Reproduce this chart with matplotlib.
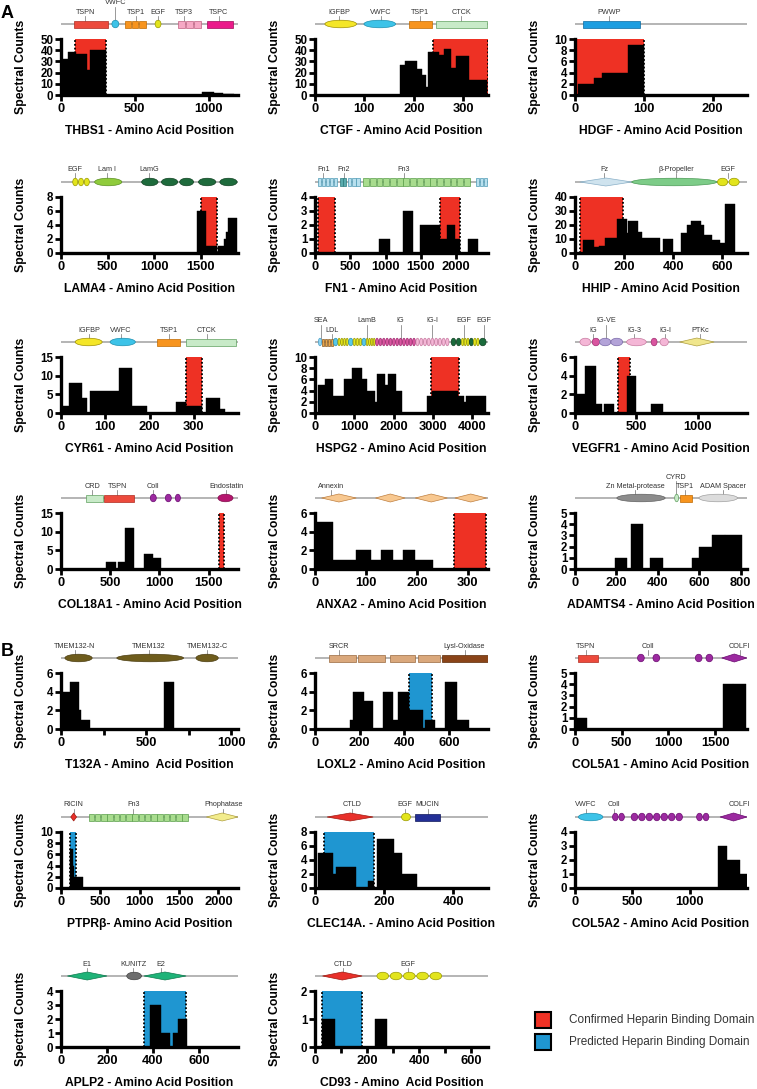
import matplotlib
matplotlib.use("Agg")
import matplotlib.pyplot as plt
from matplotlib.patches import Rectangle, Ellipse, Polygon

plt.rcParams['font.family'] = ['Liberation Sans', 'DejaVu Sans']

RED = '#ee3124'
BLUE = '#1f96d1'

# ---------------- data (amino acid positions / spectral counts) ----------------
thbs1_start = [0, 49, 99, 174, 197, 955, 1035, 1100]
thbs1_end = [49, 99, 174, 197, 306, 1035, 1100, 1170]
thbs1_count = [32, 38, 37, 22, 40, 3, 2, 1]
thbs1_hbd = [(95, 306)]
thbs1_dom = [("TSPN", 89, 319, 1), ("VWFC", 345, 392, 1), ("TSP1", 428, 576, 3),
             ("EGF", 638, 678, 1), ("TSP3", 790, 954, 3), ("TSPC", 987, 1168, 1)]
thbs1_lab = [("TSPN", 165), ("VWFC", 368), ("TSP1", 510), ("EGF", 655), ("TSP3", 832), ("TSPC", 1069)]

ctgf_start = [172, 182, 207, 217, 224, 229, 251, 261, 276, 286, 311]
ctgf_end = [182, 207, 217, 224, 229, 251, 261, 276, 286, 311, 348]
ctgf_count = [27, 30, 23, 18, 7, 38, 36, 41, 24, 35, 13]
ctgf_hbd = [(238, 350)]
ctgf_dom = [("IGFBP", 20, 84, 1), ("VWFC", 99, 163, 1), ("TSP1", 190, 237, 1), ("CTCK", 245, 348, 1)]
ctgf_lab = [("IGFBP", 49), ("VWFC", 133), ("TSP1", 212), ("CTCK", 296)]

hdgf_start = [5, 28, 39, 77]
hdgf_end = [28, 39, 77, 100]
hdgf_count = [2, 3, 4, 9]
hdgf_hbd = [(0, 100)]
hdgf_dom = [("PWWP", 11, 94, 1)]
hdgf_lab = [("PWWP", 49)]

lama4_start = [1460, 1556, 1689, 1752, 1768, 1795]
lama4_end = [1556, 1673, 1752, 1768, 1795, 1890]
lama4_count = [6, 1, 1, 2, 3, 5]
lama4_hbd = [(1503, 1673)]
lama4_dom = [("EGF", 122, 308, 3), ("LamI", 361, 653, 1), ("LamG", 866, 1041, 1), ("LamG", 1078, 1253, 1),
             ("LamG", 1274, 1423, 1), ("LamG", 1476, 1662, 1), ("LamG", 1705, 1890, 1)]
lama4_lab = [("EGF", 149), ("Lam I", 494), ("LamG", 945)]

fn1_start = [909, 1243, 1491, 1775, 1867, 1988, 2166]
fn1_end = [1065, 1385, 1775, 1867, 1988, 2059, 2308]
fn1_count = [1, 3, 2, 1, 2, 1, 1]
fn1_hbd = [(40, 285), (1775, 2060)]
fn1_dom = [("Fn1", 35, 320, 5), ("Fn2", 355, 440, 2), ("Fn1", 460, 640, 3), ("Fn3", 675, 2200, 16),
           ("Fn1", 2270, 2440, 3)]
fn1_lab = [("Fn1", 120), ("Fn2", 405), ("Fn3", 1257)]

hhip_start = [31, 77, 97, 124, 171, 211, 217, 257, 271, 357, 431, 457, 471, 511, 524, 557, 591, 611]
hhip_end = [77, 97, 124, 171, 211, 217, 257, 271, 344, 397, 457, 471, 511, 524, 557, 591, 611, 651]
hhip_count = [9, 4, 5, 11, 24, 14, 23, 15, 11, 10, 14, 20, 23, 20, 13, 9, 7, 35]
hhip_hbd = [(21, 197)]
hhip_dom = [("Fz", 20, 231, 1), ("Prop", 231, 577, 1), ("EGF", 577, 671, 2)]
hhip_lab = [("Fz", 120), ("β-Propeller", 411), ("EGF", 624)]

cyr61_start = [3, 18, 47, 65, 131, 161, 259, 282, 327, 359]
cyr61_end = [17, 47, 58, 131, 161, 195, 282, 318, 359, 370]
cyr61_count = [2, 8, 4, 6, 12, 2, 3, 2, 4, 1]
cyr61_hbd = [(282, 318)]
cyr61_dom = [("IGFBP", 32, 93, 1), ("VWFC", 111, 168, 1), ("TSP1", 218, 270, 1), ("CTCK", 282, 395, 1)]
cyr61_lab = [("IGFBP", 64), ("VWFC", 136), ("TSP1", 244), ("CTCK", 329)]

hspg2_start = [85, 256, 469, 725, 938, 1195, 1323, 1536, 1579, 1792, 1852, 2048, 2859, 2987, 3627, 3797, 3840]
hspg2_end = [256, 469, 725, 938, 1195, 1323, 1536, 1579, 1792, 1852, 2048, 2219, 2987, 3627, 3797, 3840, 4352]
hspg2_count = [5, 6, 3, 6, 8, 6, 4, 2, 7, 5, 7, 4, 3, 4, 3, 2, 3]
hspg2_hbd = [(2944, 3668)]
hspg2_dom = [("SEA", 85, 170, 1), ("LDL", 170, 469, 4), ("LamB", 469, 580, 1), ("LE", 580, 853, 4),
             ("LamB", 853, 964, 1), ("LE", 964, 1195, 3), ("LamB", 1195, 1298, 1), ("LE", 1298, 1536, 4),
             ("IGm", 1536, 2560, 12), ("IGp", 2560, 3413, 9), ("EGFd", 3456, 3720, 2), ("LE", 3720, 3925, 3),
             ("EGFd", 3925, 4028, 1), ("LE", 4028, 4181, 2), ("EGFd", 4181, 4352, 1)]
hspg2_lab = [("SEA", 145), ("LDL", 427), ("LamB", 1323), ("IG", 2176), ("IG-I", 2987), ("EGF", 3797), ("EGF", 4293)]

vegfr1_start = [0, 80, 168, 240, 420, 620]
vegfr1_end = [80, 168, 220, 320, 500, 720]
vegfr1_count = [2, 5, 1, 1, 4, 1]
vegfr1_hbd = [(348, 448)]
vegfr1_dom = [("IGp", 40, 128, 1), ("IGm", 140, 200, 1), ("IGl", 200, 292, 1), ("IGl", 292, 388, 1),
              ("IGp", 420, 580, 1), ("IGm", 620, 668, 1), ("IGp", 692, 760, 1), ("PTKc", 852, 1132, 1)]
vegfr1_lab = [("IG", 148), ("IG-VE", 252), ("IG-3", 480), ("IG-I", 732), ("PTKc", 1020)]

col18a1_start = [459, 576, 653, 847, 933]
col18a1_end = [561, 653, 745, 933, 1020]
col18a1_count = [2, 2, 11, 4, 3]
col18a1_hbd = [(1607, 1658)]
col18a1_dom = [("CRD", 255, 423, 1), ("TSPN", 434, 745, 1), ("Coll", 908, 969, 1), ("Coll", 1061, 1122, 1),
               ("Coll", 1163, 1214, 1), ("Endo", 1596, 1749, 1)]
col18a1_lab = [("CRD", 320), ("TSPN", 570), ("Coll", 933), ("Endostatin", 1680)]

anxa2_start = [3, 35, 80, 110, 129, 153, 172, 197]
anxa2_end = [35, 80, 110, 129, 153, 172, 197, 231]
anxa2_count = [5, 1, 2, 1, 2, 1, 2, 1]
anxa2_hbd = [(274, 337)]
anxa2_dom = [("Annexin", 13, 81, 1), ("Annexin", 119, 177, 1), ("Annexin", 197, 260, 1), ("Annexin", 275, 337, 1)]
anxa2_lab = [("Annexin", 32)]

adamts4_start = [191, 272, 360, 563, 598, 663, 725]
adamts4_end = [249, 330, 423, 598, 663, 725, 807]
adamts4_count = [1, 4, 1, 1, 2, 3, 3]
adamts4_dom = [("Zn", 202, 435, 1), ("CYRD", 481, 500, 1), ("TSP1", 505, 563, 1), ("Spacer", 598, 784, 1)]
adamts4_lab = [("Zn Metal-protease", 290), ("CYRD", 488), ("TSP1", 530), ("ADAM Spacer", 715)]

t132a_start = [0, 52, 105, 116, 604]
t132a_end = [52, 105, 116, 168, 662]
t132a_count = [4, 5, 2, 1, 5]
t132a_dom = [("TMEM", 23, 183, 1), ("TMEM", 328, 720, 1), ("TMEM", 793, 924, 1)]
t132a_lab = [("TMEM132-N", 81), ("TMEM132", 517), ("TMEM132-C", 860)]

loxl2_start = [155, 172, 221, 305, 349, 371, 420, 493, 581, 636]
loxl2_end = [172, 221, 261, 349, 371, 420, 482, 537, 636, 692]
loxl2_count = [1, 4, 3, 4, 1, 4, 2, 1, 5, 1]
loxl2_hbd = [(420, 526)]
loxl2_dom = [("SRCR", 62, 183, 1), ("SRCR", 194, 312, 1), ("SRCR", 334, 449, 1), ("SRCR", 460, 559, 1),
             ("Lysl", 570, 775, 1)]
loxl2_lab = [("SRCR", 106), ("Lysl-Oxidase", 670)]

col5a1_start = [0, 1580, 1690]
col5a1_end = [130, 1690, 1830]
col5a1_count = [1, 4, 4]
col5a1_dom = [("TSPN", 36, 242, 1), ("Coll", 669, 741, 1), ("Coll", 834, 906, 1), ("Coll", 1287, 1359, 1),
              ("Coll", 1401, 1473, 1), ("COLFI", 1570, 1838, 1)]
col5a1_lab = [("TSPN", 113), ("Coll", 783), ("COLFI", 1761)]

ptprb_start = [112, 150, 170]
ptprb_end = [150, 170, 285]
ptprb_count = [7, 4, 2]
ptprb_hbd = [(112, 186)]
ptprb_dom = [("RICIN", 124, 198, 1), ("Fn3", 347, 1618, 16), ("Phos", 1848, 2250, 1)]
ptprb_lab = [("RICIN", 161), ("Fn3", 918), ("Phophatase", 2065)]

clec14a_start = [10, 52, 62, 153, 178, 227, 251]
clec14a_end = [52, 62, 118, 171, 227, 251, 296]
clec14a_count = [5, 2, 3, 1, 7, 5, 2]
clec14a_hbd = [(27, 171)]
clec14a_dom = [("CTLD", 35, 168, 1), ("EGF", 250, 276, 1), ("MUCIN", 289, 362, 1)]
clec14a_lab = [("CTLD", 106), ("EGF", 261), ("MUCIN", 326)]

col5a2_start = [1244, 1329, 1436]
col5a2_end = [1329, 1436, 1500]
col5a2_count = [3, 2, 1]
col5a2_dom = [("VWFC", 30, 243, 1), ("Coll", 324, 434, 2), ("Coll", 486, 941, 7), ("Coll", 1057, 1171, 2),
              ("COLFI", 1265, 1500, 1)]
col5a2_lab = [("VWFC", 94), ("Coll", 337), ("COLFI", 1436)]

aplp2_start = [387, 436, 486, 507]
aplp2_end = [436, 475, 507, 550]
aplp2_count = [3, 1, 1, 2]
aplp2_hbd = [(361, 544)]
aplp2_dom = [("E", 28, 200, 1), ("KUNITZ", 286, 350, 1), ("E", 361, 544, 1)]
aplp2_lab = [("E1", 114), ("KUNITZ", 314), ("E2", 436)]

cd93_start = [25, 229]
cd93_end = [76, 277]
cd93_count = [1, 1]
cd93_hbd = [(25, 181)]
cd93_dom = [("CTLD", 29, 181, 1), ("EGF", 235, 490, 5)]
cd93_lab = [("CTLD", 109), ("EGF", 357)]

# ---------------- domain styles ----------------
STYLE = {
    'TSPN': ('rect', '#ec4a3c', '#b02a20'), 'VWFC': ('ellipse', '#3dc3e8', '#1a8fb0'),
    'TSP1': ('rect', '#f7941e', '#c06a00'), 'EGF': ('ellipse', '#e2e41c', '#9a9a00'),
    'TSP3': ('rect', '#f6a8c4', '#c06080'), 'TSPC': ('rect', '#ea1a8a', '#a00a5a'),
    'IGFBP': ('ellipse', '#f4e628', '#a09000'), 'CTCK': ('rect', '#c8eac8', '#60a060'),
    'PWWP': ('rect', '#1e9ee0', '#0a6aa0'), 'LamI': ('ellipse', '#8fcb3c', '#5a9020'),
    'LamG': ('ellipse', '#1e6b3c', '#0e4020'), 'Fn1': ('rect', '#b8e0ee', '#4d9ab4'),
    'Fn2': ('rect', '#5aacae', '#2a7a7c'), 'Fn3': ('rect', '#a8dc8e', '#5a9e4a'),
    'Fz': ('diamond', '#cfe3ee', '#8ab0c8'), 'Prop': ('ellipse', '#7dcc88', '#4a9a55'),
    'SEA': ('ellipse', '#8fd3f0', '#4aa0c8'), 'LDL': ('rect', '#e8a548', '#8a5a20'),
    'LamB': ('ellipse', '#58c8e8', '#2a90b0'), 'LE': ('ellipse', '#e2e41c', '#9a9a00'),
    'IGm': ('ellipse', '#d9559f', '#a02a70'), 'IGp': ('ellipse', '#f4b6d6', '#c77aa0'),
    'IGl': ('ellipse', '#b3a3d8', '#7a68a8'), 'EGFd': ('ellipse', '#1a6b3c', '#0e4020'),
    'PTKc': ('diamond', '#f0e68c', '#b0a040'), 'CRD': ('rect', '#c8eac8', '#60a060'),
    'Coll': ('ellipse', '#9c2aa0', '#6a0a70'), 'Endo': ('ellipse', '#b5166e', '#800a4a'),
    'Annexin': ('diamond', '#f8c890', '#c08040'), 'Zn': ('ellipse', '#8c8c8c', '#606060'),
    'CYRD': ('ellipse', '#c8eac8', '#60a060'), 'Spacer': ('ellipse', '#dcdcdc', '#a0a0a0'),
    'TMEM': ('ellipse', '#6e5c1c', '#4a3c10'), 'SRCR': ('rect', '#daa87c', '#9a6a40'),
    'Lysl': ('rect', '#8a4418', '#5a2a08'), 'COLFI': ('diamond', '#9c2aa0', '#6a0a70'),
    'RICIN': ('diamond', '#e8302a', '#a01a10'), 'Phos': ('diamond', '#f2ec8c', '#b0a040'),
    'CTLD': ('diamond', '#e8302a', '#a01a10'), 'MUCIN': ('rect', '#232f96', '#10185a'),
    'E': ('diamond', '#1fb378', '#0e7a4e'), 'KUNITZ': ('ellipse', '#6e6e6e', '#404040'),
}

# (row, col, title, xmax, xticks, ymax, ystep, start, end, count, hbd, hbd colour, domains, labels)
panels = [
    (0, 0, "THBS1 - Amino Acid Position", 1200, [0, 500, 1000], 50, 10,
     thbs1_start, thbs1_end, thbs1_count, thbs1_hbd, RED, thbs1_dom, thbs1_lab),
    (0, 1, "CTGF - Amino Acid Position", 350, [0, 100, 200, 300], 50, 10,
     ctgf_start, ctgf_end, ctgf_count, ctgf_hbd, RED, ctgf_dom, ctgf_lab),
    (0, 2, "HDGF - Amino Acid Position", 250, [0, 100, 200], 10, 2,
     hdgf_start, hdgf_end, hdgf_count, hdgf_hbd, RED, hdgf_dom, hdgf_lab),
    (1, 0, "LAMA4 - Amino Acid Position", 1900, [0, 500, 1000, 1500], 8, 2,
     lama4_start, lama4_end, lama4_count, lama4_hbd, RED, lama4_dom, lama4_lab),
    (1, 1, "FN1 - Amino Acid Position", 2450, [0, 500, 1000, 1500, 2000], 4, 1,
     fn1_start, fn1_end, fn1_count, fn1_hbd, RED, fn1_dom, fn1_lab),
    (1, 2, "HHIP - Amino Acid Position", 700, [0, 200, 400, 600], 40, 10,
     hhip_start, hhip_end, hhip_count, hhip_hbd, RED, hhip_dom, hhip_lab),
    (2, 0, "CYR61 - Amino Acid Position", 400, [0, 100, 200, 300], 15, 5,
     cyr61_start, cyr61_end, cyr61_count, cyr61_hbd, RED, cyr61_dom, cyr61_lab),
    (2, 1, "HSPG2 - Amino Acid Position", 4400, [0, 1000, 2000, 3000, 4000], 10, 2,
     hspg2_start, hspg2_end, hspg2_count, hspg2_hbd, RED, hspg2_dom, hspg2_lab),
    (2, 2, "VEGFR1 - Amino Acid Position", 1400, [0, 500, 1000], 6, 2,
     vegfr1_start, vegfr1_end, vegfr1_count, vegfr1_hbd, RED, vegfr1_dom, vegfr1_lab),
    (3, 0, "COL18A1 - Amino Acid Position", 1800, [0, 500, 1000, 1500], 15, 5,
     col18a1_start, col18a1_end, col18a1_count, col18a1_hbd, RED, col18a1_dom, col18a1_lab),
    (3, 1, "ANXA2 - Amino Acid Position", 340, [0, 100, 200, 300], 6, 2,
     anxa2_start, anxa2_end, anxa2_count, anxa2_hbd, RED, anxa2_dom, anxa2_lab),
    (3, 2, "ADAMTS4 - Amino Acid Position", 830, [0, 200, 400, 600, 800], 5, 1,
     adamts4_start, adamts4_end, adamts4_count, [], RED, adamts4_dom, adamts4_lab),
    (4, 0, "T132A - Amino  Acid Position", 1040, [0, 500, 1000], 6, 2,
     t132a_start, t132a_end, t132a_count, [], BLUE, t132a_dom, t132a_lab),
    (4, 1, "LOXL2 - Amino Acid Position", 775, [0, 200, 400, 600], 6, 2,
     loxl2_start, loxl2_end, loxl2_count, loxl2_hbd, BLUE, loxl2_dom, loxl2_lab),
    (4, 2, "COL5A1 - Amino Acid Position", 1840, [0, 500, 1000, 1500], 5, 1,
     col5a1_start, col5a1_end, col5a1_count, [], BLUE, col5a1_dom, col5a1_lab),
    (5, 0, "PTPRβ- Amino Acid Position", 2250, [0, 500, 1000, 1500, 2000], 10, 2,
     ptprb_start, ptprb_end, ptprb_count, ptprb_hbd, BLUE, ptprb_dom, ptprb_lab),
    (5, 1, "CLEC14A. - Amino Acid Position", 500, [0, 200, 400], 8, 2,
     clec14a_start, clec14a_end, clec14a_count, clec14a_hbd, BLUE, clec14a_dom, clec14a_lab),
    (5, 2, "COL5A2 - Amino Acid Position", 1500, [0, 500, 1000], 4, 1,
     col5a2_start, col5a2_end, col5a2_count, [], BLUE, col5a2_dom, col5a2_lab),
    (6, 0, "APLP2 - Amino Acid Position", 770, [0, 200, 400, 600], 4, 1,
     aplp2_start, aplp2_end, aplp2_count, aplp2_hbd, BLUE, aplp2_dom, aplp2_lab),
    (6, 1, "CD93 - Amino  Acid Position", 665, [0, 200, 400, 600], 2, 1,
     cd93_start, cd93_end, cd93_count, cd93_hbd, BLUE, cd93_dom, cd93_lab),
]

minor_ticks = {"T132A - Amino  Acid Position": [250, 750],
               "CD93 - Amino  Acid Position": [100, 300, 500]}
label_level = {"THBS1 - Amino Acid Position": {"VWFC": 1},
               "VEGFR1 - Amino Acid Position": {"IG-VE": 1},
               "ADAMTS4 - Amino Acid Position": {"CYRD": 1},
               "HSPG2 - Amino Acid Position": {"SEA": 1, "LamB": 1, "IG": 1, "IG-I": 1, "EGF": 1}}

# ---------------- layout (pixels) ----------------
W, H = 757, 1089
COL_X = [61, 315, 575]
COL_W = [177, 173, 172]
ROW_B = [95, 253, 413, 569, 729, 888, 1047]
PLOT_H = 56

fig = plt.figure(figsize=(W / 100, H / 100), dpi=100)


def draw_domains(dax, dom, lab, xmax, levels):
    dax.plot([0, xmax], [12, 12], color='#a0a0a0', lw=1.1, zorder=1, solid_capstyle='butt')
    for kind, a, b, n in dom:
        shape, fc, ec = STYLE[kind]
        step = (b - a) / n
        for i in range(n):
            x0 = a + i * step
            x1 = x0 + step
            if n > 1:
                x0 += step * 0.06
                x1 -= step * 0.06
            xc = (x0 + x1) / 2
            if shape == 'rect':
                p = Rectangle((x0, 8.5), x1 - x0, 7, fc=fc, ec=ec, lw=0.5, zorder=2)
            elif shape == 'ellipse':
                p = Ellipse((xc, 12), x1 - x0, 7.5, fc=fc, ec=ec, lw=0.5, zorder=2)
            else:
                p = Polygon([(x0, 12), (xc, 16), (x1, 12), (xc, 8)], closed=True,
                            fc=fc, ec=ec, lw=0.5, zorder=2)
            dax.add_patch(p)
    for text, x in lab:
        ty = 33 if levels.get(text, 0) == 1 else 24
        dax.plot([x, x], [15.5, ty - 3.5], color='#707070', lw=0.5, zorder=1)
        dax.text(x, ty, text, ha='center', va='center', fontsize=5.2, color='#333333')


for (row, col, title, xmax, xticks, ymax, ystep, start, end, count, hbd, hcol, dom, lab) in panels:
    left, width = COL_X[col], COL_W[col]
    bottom = ROW_B[row]
    top = bottom - PLOT_H
    ax = fig.add_axes([left / W, 1 - bottom / H, width / W, PLOT_H / H])
    ax.patch.set_alpha(0)

    for a, b in hbd:
        ax.axvspan(a, b, color=hcol, lw=0, zorder=1)
        ax.vlines([a, b], 0, ymax, colors='black', linestyles=(0, (1, 1.1)), lw=1.3, zorder=3)

    widths = [e - s for s, e in zip(start, end)]
    ax.bar(start, count, width=widths, align='edge', color='black', edgecolor='black', lw=0.3, zorder=2)

    ax.set_xlim(0, xmax)
    ax.set_ylim(0, ymax)
    ax.set_xticks(xticks)
    ax.set_yticks(list(range(0, ymax + 1, ystep)))
    if title in minor_ticks:
        ax.set_xticks(minor_ticks[title], minor=True)
    for s in ['top', 'right']:
        ax.spines[s].set_visible(False)
    for s in ['left', 'bottom']:
        ax.spines[s].set_linewidth(2.4)
        ax.spines[s].set_zorder(4)
    ax.tick_params(which='both', width=2, length=4, pad=1.5, color='black')
    ax.tick_params(axis='x', labelsize=9.3)
    ax.tick_params(axis='y', labelsize=8.3)
    for t in ax.get_xticklabels() + ax.get_yticklabels():
        t.set_fontweight('bold')

    fig.text((left - 40) / W, 1 - (bottom - 28) / H, 'Spectral Counts', rotation=90,
             ha='center', va='center', fontsize=8.8, fontweight='bold')
    fig.text((left + width / 2) / W, 1 - (bottom + 36) / H, title,
             ha='center', va='center', fontsize=8.7, fontweight='bold')

    dax = fig.add_axes([left / W, 1 - (top - 3) / H, width / W, 42 / H])
    dax.set_xlim(0, xmax)
    dax.set_ylim(0, 42)
    dax.axis('off')
    draw_domains(dax, dom, lab, xmax, label_level.get(title, {}))

# panel letters
fig.text(7 / W, 1 - 14 / H, 'A', fontsize=13, fontweight='bold', ha='center', va='center')
fig.text(7 / W, 1 - 651 / H, 'B', fontsize=13, fontweight='bold', ha='center', va='center')

# legend
for yc, c, txt in [(1020, RED, 'Confirmed Heparin Binding Domain'),
                   (1042, BLUE, 'Predicted Heparin Binding Domain')]:
    fig.add_artist(Rectangle((535 / W, 1 - (yc + 8) / H), 16 / W, 16 / H, transform=fig.transFigure,
                             fc=c, ec='black', lw=1.5))
    fig.text(569 / W, 1 - yc / H, txt, ha='left', va='center', fontsize=8.5, color='#333333')

fig.savefig('out.png', dpi=100)
